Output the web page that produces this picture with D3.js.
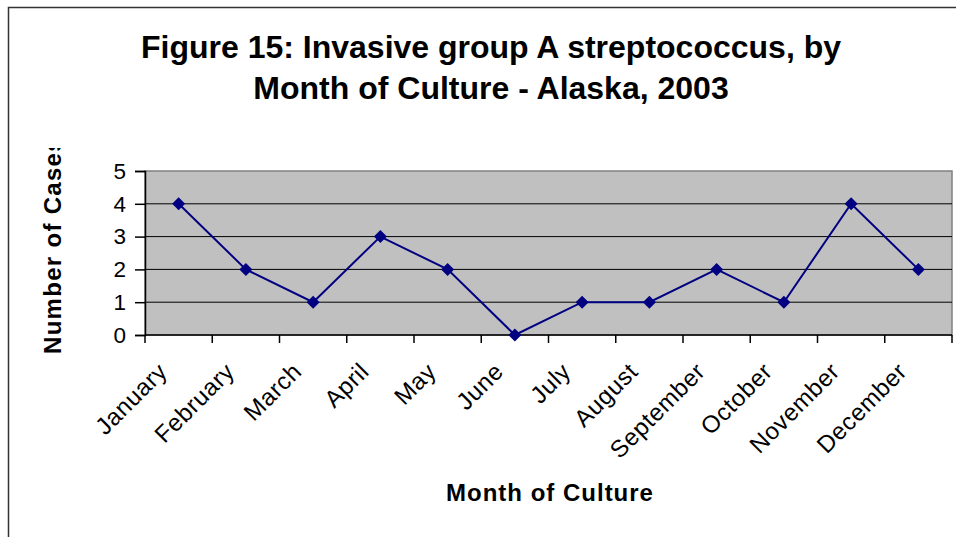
<!DOCTYPE html>
<html>
<head>
<meta charset="utf-8">
<script src="https://cdn.jsdelivr.net/npm/d3@7"></script>
<style>
  body { margin: 0; background: #fff; }
  svg { display: block; font-family: "Liberation Sans", Arial, sans-serif; }
</style>
</head>
<body>
<svg width="956" height="537"></svg>
<script>
// data
const months = ["January", "February", "March", "April", "May", "June",
    "July", "August", "September", "October", "November", "December"];
const cases = [4, 2, 1, 3, 2, 0, 1, 1, 2, 1, 4, 2];
const yTicks = [0, 1, 2, 3, 4, 5];

const svg = d3.select("svg");

// outer frame (left + top visible)
svg.append("rect")
    .attr("x", 8.5).attr("y", 7.5)
    .attr("width", 960).attr("height", 540)
    .attr("fill", "none")
    .attr("stroke", "#333")
    .attr("stroke-width", 1.5);

// plot area
const plot = {left: 145, top: 171, right: 952, bottom: 335};

const x = d3.scaleBand()
    .domain(months)
    .range([plot.left, plot.right]);

const y = d3.scaleLinear()
    .domain([0, 5])
    .range([plot.bottom, plot.top]);

svg.append("rect")
    .attr("x", plot.left).attr("y", plot.top)
    .attr("width", plot.right - plot.left)
    .attr("height", plot.bottom - plot.top)
    .attr("fill", "#c0c0c0")
    .attr("stroke", "#808080")
    .attr("stroke-width", 1.5);

// gridlines
svg.append("g")
    .selectAll("line")
    .data(yTicks.filter(d => d > 0 && d < 5))
    .join("line")
      .attr("x1", plot.left).attr("x2", plot.right)
      .attr("y1", d => y(d)).attr("y2", d => y(d))
      .attr("stroke", "#000")
      .attr("stroke-width", 1);

// y axis
const yAxis = svg.append("g")
    .attr("transform", `translate(${plot.left},0)`)
    .call(d3.axisLeft(y).tickValues(yTicks).tickSize(10).tickPadding(9).tickFormat(d3.format("d")));
yAxis.selectAll("path, line").attr("stroke", "#000").attr("stroke-width", 1.5);
yAxis.selectAll("text")
    .attr("font-size", 22.5)
    .attr("font-family", "Liberation Sans, Arial, sans-serif")
    .attr("fill", "#000");

// x axis: ticks at category boundaries
const xAxisG = svg.append("g");
xAxisG.append("line")
    .attr("x1", plot.left).attr("x2", plot.right)
    .attr("y1", plot.bottom).attr("y2", plot.bottom)
    .attr("stroke", "#000").attr("stroke-width", 1.5);
xAxisG.selectAll(".tk")
    .data(months.concat(["end"]))
    .join("line")
      .attr("class", "tk")
      .attr("x1", (d, i) => i < months.length ? x(d) : plot.right)
      .attr("x2", (d, i) => i < months.length ? x(d) : plot.right)
      .attr("y1", plot.bottom).attr("y2", plot.bottom + 8)
      .attr("stroke", "#000").attr("stroke-width", 1.5);

xAxisG.selectAll("text")
    .data(months)
    .join("text")
      .attr("transform", d => `translate(${x(d) + x.bandwidth() / 2 - 10},${plot.bottom + 38}) rotate(-45)`)
      .attr("text-anchor", "end")
      .attr("font-size", 24)
      .attr("letter-spacing", 0.6)
      .attr("fill", "#000")
      .text(d => d);

// line + markers
const pts = months.map((m, i) => ({m, v: cases[i]}));
const line = d3.line()
    .x(d => x(d.m) + x.bandwidth() / 2)
    .y(d => y(d.v));

svg.append("path")
    .datum(pts)
    .attr("d", line)
    .attr("fill", "none")
    .attr("stroke", "#000080")
    .attr("stroke-width", 2);

svg.append("g")
    .selectAll("path")
    .data(pts)
    .join("path")
      .attr("d", d3.symbol(d3.symbolSquare, 85))
      .attr("transform", d => `translate(${x(d.m) + x.bandwidth() / 2},${y(d.v)}) rotate(45)`)
      .attr("fill", "#000080");

// titles
svg.append("text")
    .attr("x", 491).attr("y", 58)
    .attr("text-anchor", "middle")
    .attr("font-size", 32)
    .attr("font-weight", "bold")
    .text("Figure 15: Invasive group A streptococcus, by");
svg.append("text")
    .attr("x", 491).attr("y", 99)
    .attr("text-anchor", "middle")
    .attr("font-size", 32)
    .attr("font-weight", "bold")
    .text("Month of Culture - Alaska, 2003");

svg.append("text")
    .attr("x", 550).attr("y", 501)
    .attr("text-anchor", "middle")
    .attr("font-size", 24)
    .attr("letter-spacing", 1)
    .attr("font-weight", "bold")
    .text("Month of Culture");

// y title, clipped at the top like the original
svg.append("clipPath").attr("id", "yclip")
  .append("rect").attr("x", 0).attr("y", 148).attr("width", 120).attr("height", 300);
svg.append("g").attr("clip-path", "url(#yclip)")
  .append("text")
    .attr("transform", "translate(61,354) rotate(-90)")
    .attr("text-anchor", "start")
    .attr("font-size", 24)
    .attr("letter-spacing", 1.3)
    .attr("font-weight", "bold")
    .text("Number of Cases");
</script>
</body>
</html>
